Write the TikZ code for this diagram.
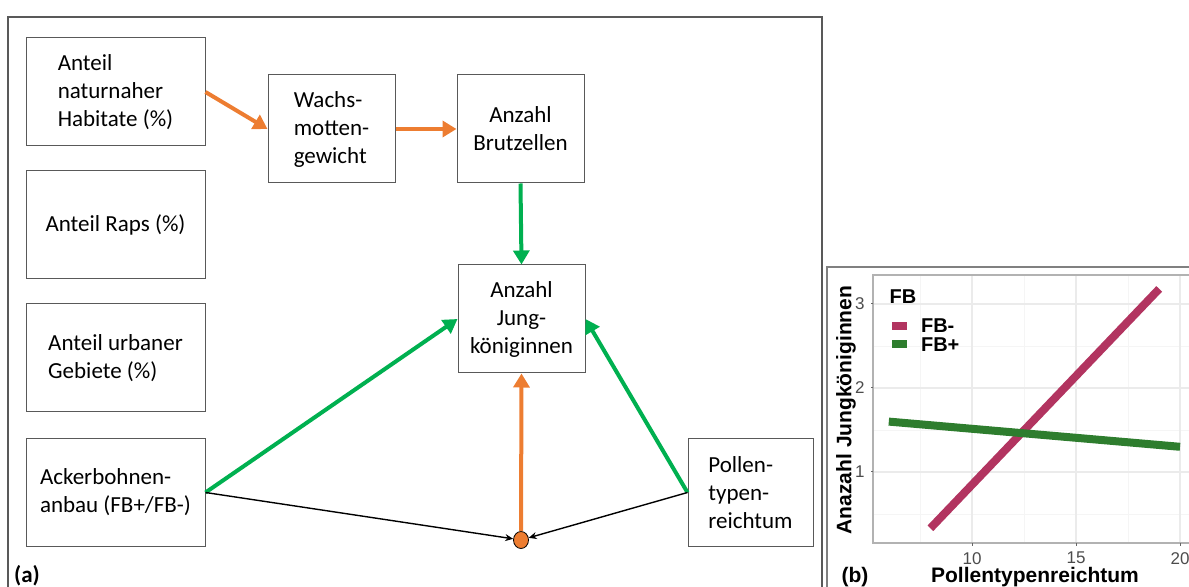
\documentclass[tikz,border=0pt]{standalone}
\usepackage{fontspec}
\setmainfont{Carlito}
\newfontfamily\plotfont{Liberation Sans}
\usetikzlibrary{arrows.meta,shapes.geometric}

\definecolor{arrorange}{RGB}{237,125,49}
\definecolor{arrgreen}{RGB}{0,176,80}
\definecolor{fbminus}{RGB}{178,52,96}
\definecolor{fbplus}{RGB}{46,125,46}
\definecolor{framegray}{RGB}{89,89,89}

\tikzset{
  varbox/.style={draw=framegray,line width=0.5pt,minimum height=54pt,inner sep=0pt,
    align=left,font=\fontsize{11.5}{14}\selectfont},
  widebox/.style={varbox,minimum width=89.5pt},
  narrowbox/.style={varbox,minimum width=63.5pt},
  posarrow/.style={draw=arrgreen,line width=2pt,-{Triangle[length=7pt,width=8pt]}},
  midarrow/.style={draw=arrorange,line width=2pt,-{Triangle[length=7pt,width=8pt]}},
  interarrow/.style={draw=black,line width=0.7pt,-{Stealth[length=4pt,width=3.5pt]}},
  ticklabel/.style={font=\plotfont\fontsize{8.5}{10}\selectfont,text=black!70},
  legendtext/.style={font=\plotfont\bfseries\fontsize{10}{12}\selectfont},
  axislabel/.style={font=\plotfont\bfseries\fontsize{10.5}{12}\selectfont}
}

\begin{document}
\begin{tikzpicture}[x=0.5pt,y=-0.5pt]
\useasboundingbox (0,0) rectangle (1189,587);
\clip (0,0) rectangle (1189,587);

\draw[framegray,line width=0.8pt] (8,600) -- (8,17) -- (822,17) -- (822,600);
\draw[gray,line width=0.8pt] (827,600) -- (827,267) -- (1200,267);

\node[widebox] (hab) at (115.5,92) {Anteil\\naturnaher\\Habitate (\%)};
\node[widebox,align=center] (raps) at (115.5,225) {Anteil Raps (\%)};
\node[widebox] (urb) at (115.5,358) {Anteil urbaner\\Gebiete (\%)};
\node[widebox] (fb) at (115.5,492.5) {Ackerbohnen-\\anbau (FB+/FB-)};
\node[narrowbox] (wachs) at (331.5,129) {Wachs-\\motten-\\gewicht};
\node[narrowbox,align=center] (brut) at (520.5,129) {Anzahl\\Brutzellen};
\node[narrowbox,align=center] (jung) at (521.5,319) {Anzahl\\Jung-\\königinnen};
\node[narrowbox,minimum width=62.5pt] (pollen) at (750.5,492.5) {Pollen-\\typen-\\reichtum};
\node[ellipse,draw=black,line width=0.4pt,fill=arrorange,minimum width=7.5pt,
  minimum height=8.5pt,inner sep=0pt] (dot) at (521,540) {};

\draw[midarrow] (hab.east) -- (wachs.west);
\draw[midarrow] (wachs.east) -- (brut.west);
\draw[posarrow] (brut.south) -- (jung.north);
\draw[posarrow] (fb.east) -- (jung.west);
\draw[posarrow] (pollen.west) -- (jung.east);
\draw[midarrow] (dot.north) -- (jung.south);
\draw[interarrow] (fb.east) -- (dot);
\draw[interarrow] (pollen.west) -- (dot);

\node[font=\bfseries\fontsize{11.5}{13}\selectfont] (lbla) at (27,576) {(a)};

\begin{scope}[shift={(382pt,-278pt)},x=10.4pt,y=42pt]
  \foreach \gx in {7.5,12.5,17.5} \draw[black!4,line width=0.4pt] (\gx,0.155) -- (\gx,3.345);
  \foreach \gy in {0.5,1.5,2.5} \draw[black!4,line width=0.4pt] (5.24,\gy) -- (21,\gy);
  \foreach \gx in {10,15,20} \draw[black!8,line width=0.6pt] (\gx,0.155) -- (\gx,3.345);
  \foreach \gy in {1,2,3} \draw[black!8,line width=0.6pt] (5.24,\gy) -- (21,\gy);
  \draw[black!30,line width=0.6pt] (21,0.155) -- (5.24,0.155) -- (5.24,3.345) -- (21,3.345);
  \foreach \gx in {10,15,20} {
    \draw[black!60,line width=0.5pt] (\gx,0.155) -- (\gx,0.12);
    \node[ticklabel,anchor=north] at (\gx,0.13) {\gx};
  }
  \foreach \gy in {1,2,3} {
    \draw[black!60,line width=0.5pt] (5.24,\gy) -- (5.16,\gy);
    \node[ticklabel,anchor=east] at (5.18,\gy) {\gy};
  }
  \draw[fbminus,line width=4pt] (8,0.33) -- (19,3.18);
  \draw[fbplus,line width=4pt] (6,1.6) -- (20,1.3);
\end{scope}

\node[legendtext] (legtitle) at (903,297) {FB};
\fill[fbminus] (892,322) rectangle (907,330);
\node[legendtext,anchor=west] (legminus) at (914,326) {FB-};
\fill[fbplus] (892,340) rectangle (907,348);
\node[legendtext,anchor=west] (legplus) at (914,345) {FB+};

\node[axislabel,rotate=90] (ylab) at (846,410) {Anazahl Jungköniginnen};
\node[axislabel] (xlab) at (1035,577) {Pollentypenreichtum};
\node[axislabel] (lblb) at (855,577) {(b)};
\end{tikzpicture}
\end{document}
